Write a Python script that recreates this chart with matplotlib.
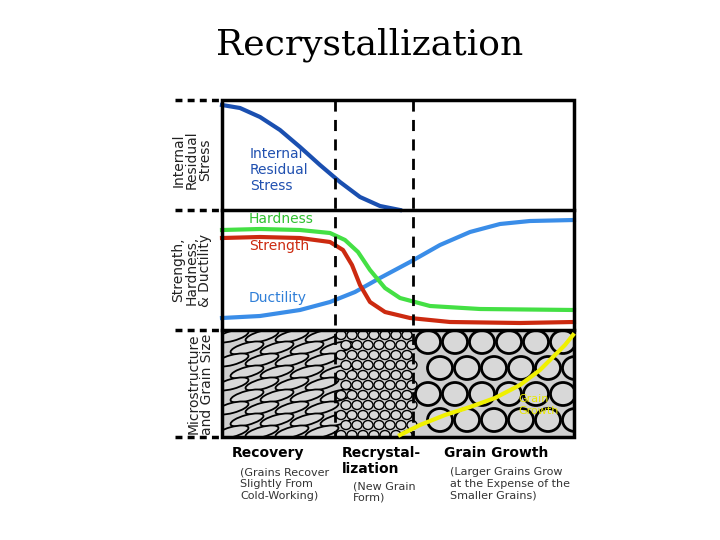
import numpy as np
import matplotlib.pyplot as plt
from matplotlib.patches import Ellipse, Rectangle

# all coordinates in picture pixels (720 x 540, y downward)
stress_x = [222, 240, 260, 280, 300, 320, 340, 360, 380, 400]
stress_y = [105, 108, 117, 130, 147, 165, 182, 197, 206, 210]

hard_x = [222, 260, 300, 330, 345, 358, 370, 385, 400, 430, 480, 574]
hard_y = [230, 229, 230, 233, 240, 252, 270, 288, 298, 306, 309, 310]

str_x = [222, 260, 300, 330, 343, 352, 360, 370, 385, 410, 450, 520, 574]
str_y = [238, 237, 238, 242, 250, 265, 285, 302, 312, 318, 322, 323, 322]

duct_x = [222, 260, 300, 330, 355, 380, 410, 440, 470, 500, 530, 574]
duct_y = [318, 316, 310, 302, 292, 278, 262, 245, 232, 224, 221, 220]

grow_x = [400, 420, 445, 470, 495, 520, 540, 555, 565, 573]
grow_y = [435, 425, 415, 407, 398, 385, 370, 355, 345, 335]

fig = plt.figure(figsize=(7.2, 5.4), dpi=100)
ax = fig.add_axes([0, 0, 1, 1])
ax.set_xlim(0, 720)
ax.set_ylim(540, 0)
ax.axis('off')

ax.text(370, 45, 'Recrystallization', ha='center', va='center',
        fontsize=26, family='DejaVu Serif')

# microstructure panel
micro = Rectangle((222, 330), 352, 107, facecolor='#cfcfcf', edgecolor='none', zorder=1)
ax.add_patch(micro)

def grain(cx, cy, w, h, angle, lw):
    e = Ellipse((cx, cy), w, h, angle=angle, facecolor='#d8d8d8',
                edgecolor='black', lw=lw, zorder=2)
    ax.add_patch(e)
    e.set_clip_path(micro)

for row in range(9):
    for col in range(4):
        grain(232 + col * 30 + (row % 2) * 15, 336 + row * 12, 34, 10, -15, 1.3)
for row in range(11):
    for col in range(7):
        grain(341 + col * 11 + (row % 2) * 5, 335 + row * 10, 10, 9, 0, 1.0)
for row in range(4):
    for col in range(6):
        grain(428 + col * 27 + (row % 2) * 12, 342 + row * 26, 25, 23, 0, 2)

# box and dividers
ax.add_patch(Rectangle((222, 100), 352, 337, facecolor='none', edgecolor='black', lw=2.5, zorder=5))
for y in [210, 330]:
    ax.plot([222, 574], [y, y], color='black', lw=2.5, zorder=5)
for y in [100, 210, 330, 437]:
    ax.plot([175, 222], [y, y], color='black', lw=2.5, ls=(0, (2, 1.5)), zorder=5)
for x in [335, 413]:
    ax.plot([x, x], [100, 437], color='black', lw=2, ls=(0, (4, 3)), zorder=5)

# curves
ax.plot(stress_x, stress_y, color='#1a4fb0', lw=3, zorder=4)
ax.plot(duct_x, duct_y, color='#3a8de8', lw=3, zorder=4)
ax.plot(hard_x, hard_y, color='#44e044', lw=3, zorder=4)
ax.plot(str_x, str_y, color='#cc2a10', lw=3, zorder=4)
ax.plot(grow_x, grow_y, color='#f0f000', lw=3, zorder=6)

# panel labels
ax.text(250, 170, 'Internal\nResidual\nStress', color='#2050b0', fontsize=10, va='center', zorder=6)
ax.text(249, 219, 'Hardness', color='#30c030', fontsize=10, va='center', zorder=6)
ax.text(249, 246, 'Strength', color='#cc2a10', fontsize=10, va='center', zorder=6)
ax.text(249, 298, 'Ductility', color='#2f7fd8', fontsize=10, va='center', zorder=6)
ax.text(518, 405, 'Grain\nGrowth', color='#e8e800', fontsize=8, va='center', zorder=6)

ax.text(192, 160, 'Internal\nResidual\nStress', rotation=90, fontsize=10,
        ha='center', va='center', color='#222222', linespacing=0.95)
ax.text(192, 270, 'Strength,\nHardness,\n& Ductility', rotation=90, fontsize=10,
        ha='center', va='center', color='#222222', linespacing=0.95)
ax.text(200, 384, 'Microstructure\nand Grain Size', rotation=90, fontsize=10,
        ha='center', va='center', color='#222222', linespacing=0.95)

# stage labels
ax.text(232, 453, 'Recovery', fontsize=10, fontweight='bold', va='center')
ax.text(240, 484, '(Grains Recover\nSlightly From\nCold-Working)', fontsize=8, va='center', color='#333333')
ax.text(342, 461, 'Recrystal-\nlization', fontsize=10, fontweight='bold', va='center')
ax.text(353, 492, '(New Grain\nForm)', fontsize=8, va='center', color='#333333')
ax.text(444, 453, 'Grain Growth', fontsize=10, fontweight='bold', va='center')
ax.text(450, 484, '(Larger Grains Grow\nat the Expense of the\nSmaller Grains)', fontsize=8, va='center', color='#333333')

fig.savefig('out.png', dpi=100)
